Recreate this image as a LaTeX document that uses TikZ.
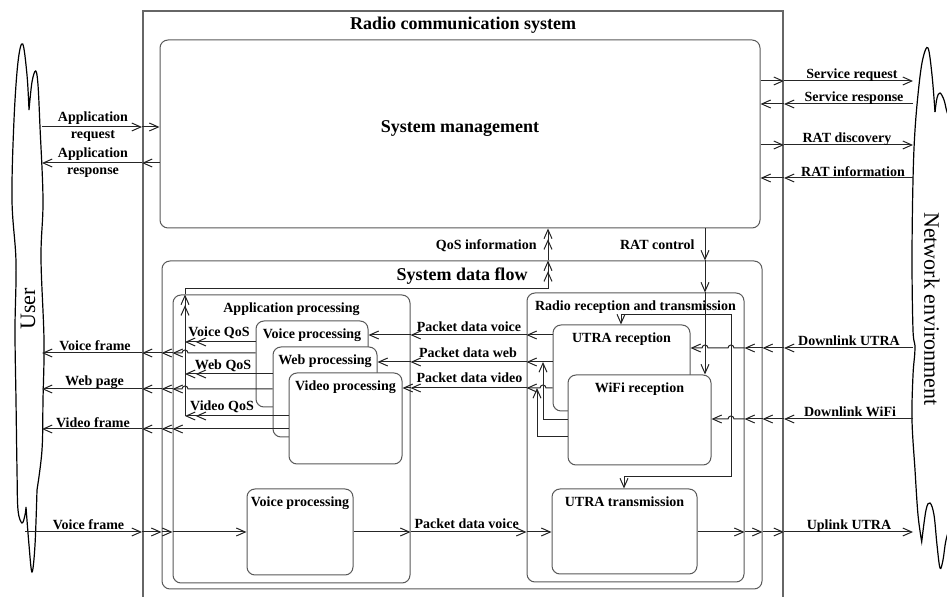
\documentclass[tikz,border=0pt]{standalone}
\usepackage{fontspec}
\setmainfont{Liberation Serif}
\usetikzlibrary{arrows.meta,fit}

\tikzset{
  sysbox/.style={draw=black!60, line width=1pt, inner sep=0pt},
  box/.style={draw=black!65, fill=white, rounded corners=4pt, inner sep=0pt, line width=0.5pt},
  ttl/.style={font=\bfseries\fontsize{7}{8.5}\selectfont, anchor=north, yshift=-0.4pt},
  bigttl/.style={font=\bfseries\fontsize{9}{11}\selectfont, anchor=north, yshift=-0.2pt},
  lab/.style={font=\bfseries\fontsize{7}{8.5}\selectfont, inner sep=0pt, anchor=base},
  lab2/.style={font=\bfseries\fontsize{7}{8.5}\selectfont, inner sep=0pt, align=center},
  wire/.style={draw=black!85, line width=0.5pt},
  arr/.style={wire, -{Straight Barb[length=4.5pt,width=4pt]}},
  qarr/.style={wire, -{Straight Barb[length=4.5pt,width=4pt]Straight Barb[length=4.5pt,width=4pt]}},
  cloudline/.style={draw=black, line width=0.6pt},
}

\begin{document}
\begin{tikzpicture}[x=0.5pt, y=-0.5pt]
\useasboundingbox (0,0) rectangle (947,597);

% clouds
\draw[cloudline] plot[smooth, tension=0.6] coordinates {(29,110) (27,75) (22.7,44) (18,62) (14,120) (12,200) (16,262) (15,330) (16,400) (17,470) (18,510) (22,523) (25,515) (26,507)}
  -- plot[smooth, tension=0.6] coordinates {(26,507) (29,545) (32,572) (35,545) (37,490)}
  -- plot[smooth, tension=0.6] coordinates {(37,490) (42,450) (43,400) (44,340) (41,258) (43,200) (40,127) (38,85) (35.7,71) (32,82) (29,110)};
\draw[cloudline] plot[smooth, tension=0.6] coordinates {(935,112) (932,75) (928,48) (923,58) (919,85) (915,130) (913,180) (912,260) (913,330) (915,348) (913,375) (912,420) (915,470) (918,515) (921.7,541.7)}
  -- plot[smooth, tension=0.6] coordinates {(921.7,541.7) (926,510) (930,503) (934,515) (937,545) (940,568) (943,560) (946,540) (952,520)};
\draw[cloudline] plot[smooth, tension=0.6] coordinates {(935,112) (937,98) (940,93) (944,100) (947,112) (952,125)};
\node[rotate=90, font=\fontsize{11}{13}\selectfont] (user-t) at (28,309) {User};
\node[rotate=-90, font=\fontsize{11}{13}\selectfont] (net-t) at (932,309) {Network environment};

% boxes
\node[sysbox, fit={(143,11) (783,615)}, label={[bigttl,name=sys-t]north:Radio communication system}] (sys) {};
\node[box, fit={(160,40) (760,228)}, font=\bfseries\fontsize{9}{11}\selectfont] (mgmt) {System management};
\node[box, fit={(162,261) (762,589)}, label={[bigttl,name=dflow-t]north:System data flow}] (dflow) {};
\node[box, fit={(173,295) (410,583)}, label={[ttl,name=app-t]north:Application processing}] (app) {};
\node[box, fit={(256,321) (368,407)}, label={[ttl,name=voice-t]north:Voice processing}] (voice) {};
\node[box, fit={(273,347) (377,437)}, label={[ttl,name=web-t]north:Web processing}] (web) {};
\node[box, fit={(289,373) (402,464)}, label={[ttl,name=video-t]north:Video processing}] (video) {};
\node[box, fit={(247,489) (353,575)}, label={[ttl,name=voiceTx-t]north:Voice processing}] (voiceTx) {};
\node[box, fit={(527,293) (744,582)}, label={[ttl,name=radio-t]north:Radio reception and transmission}] (radio) {};
\node[box, fit={(553,325) (690,411)}, label={[ttl,name=utraRx-t]north:UTRA reception}] (utraRx) {};
\node[box, fit={(568,375) (711,465)}, label={[ttl,name=wifiRx-t]north:WiFi reception}] (wifiRx) {};
\node[box, fit={(552,489) (697,574)}, label={[ttl,name=utraTx-t]north:UTRA transmission}] (utraTx) {};

% ends and bends of the connectors
\coordinate (user) at (42,300);
\coordinate (userB) at (25,532);
\coordinate (net) at (913,300);
\coordinate (qosbus) at (185,289);
\coordinate (qosup) at (548,289);
\coordinate (ratctl) at (705,315);
\coordinate (ratL) at (621,315);
\coordinate (ratR) at (731,315);
\coordinate (ratTx) at (624,477);
\coordinate (wifiWeb) at (543,362);
\coordinate (wifiVid) at (537,388);

% user <-> system management
\foreach \p/\q in {user/sys.west, sys.west/mgmt.west}
  \draw[arr] (\p |- 0,127) -- (\q |- 0,127);
\foreach \p/\q in {mgmt.west/sys.west, sys.west/user}
  \draw[arr] (\p |- 0,163) -- (\q |- 0,163);
\node[lab2] (l-appreq) at (93,127) {Application\\request};
\node[lab2] (l-appresp) at (93,162.5) {Application\\response};

% system management <-> network
\foreach \y in {81,145} {
  \draw[arr] (mgmt.east |- 0,\y) -- (sys.east |- 0,\y);
  \draw[arr] (sys.east |- 0,\y) -- (net |- 0,\y);
}
\foreach \y in {104,178} {
  \draw[arr] (net |- 0,\y) -- (sys.east |- 0,\y);
  \draw[arr] (sys.east |- 0,\y) -- (mgmt.east |- 0,\y);
}
\node[lab] (l-sreq) at (852,78.6) {Service request};
\node[lab] (l-sresp) at (854,101.3) {Service response};
\node[lab] (l-ratdisc) at (847,142.3) {RAT discovery};
\node[lab] (l-ratinfo) at (853,176.3) {RAT information};

% QoS information
\foreach \b/\y in {voice/342, web/374, video/416}
  \draw[qarr] (\b.west |- 0,\y) -- (qosbus |- 0,\y);
\draw[qarr] (qosbus |- 0,416) -- (qosbus |- app.north);
\draw[qarr] (qosbus |- app.north) -- (qosbus) -- (qosup) -- (qosup |- dflow.north);
\draw[qarr] (qosup |- dflow.north) -- (qosup |- mgmt.south);
\node[lab, anchor=base east] (l-qos) at (537,249.6) {QoS information};
\node[lab] (l-vqos) at (219,337) {Voice QoS};
\node[lab] (l-wqos) at (223,370) {Web QoS};
\node[lab] (l-dqos) at (222,411) {Video QoS};

% RAT control
\draw[arr] (ratctl |- mgmt.south) -- (ratctl |- dflow.north);
\draw[arr] (ratctl |- dflow.north) -- (ratctl |- radio.north);
\draw[arr] (ratctl |- radio.north) -- (ratctl |- wifiRx.north);
\draw[arr] (ratctl) -- (ratL) -- (ratL |- utraRx.north);
\draw[arr] (ratctl) -- (ratR) -- (ratR |- ratTx) -- (ratTx) -- (ratTx |- utraTx.north);
\node[lab, anchor=base east] (l-rat) at (695,249.6) {RAT control};

% application processing -> user
\draw[arr] (voice.west |- 0,353) -- ([xshift=1.5pt]qosbus |- 0,353) arc[start angle=0, end angle=-180, radius=3] -- (app.west |- 0,353);
\draw[arr] (web.west |- 0,389) -- ([xshift=1.5pt]qosbus |- 0,389) arc[start angle=0, end angle=-180, radius=3] -- (app.west |- 0,389);
\draw[arr] (video.west |- 0,429) -- (app.west |- 0,429);
\foreach \y in {353,389,429}
  \foreach \p/\q in {app.west/dflow.west, dflow.west/sys.west, sys.west/user}
    \draw[arr] (\p |- 0,\y) -- (\q |- 0,\y);
\node[lab] (l-vframe) at (95,351) {Voice frame};
\node[lab] (l-wpage) at (94.5,385.6) {Web page};
\node[lab] (l-dframe) at (93,427.3) {Video frame};

% user -> application processing -> radio -> network
\foreach \p/\q in {userB/sys.west, sys.west/dflow.west, dflow.west/app.west, app.west/voiceTx.west,
    voiceTx.east/app.east, app.east/radio.west, radio.west/utraTx.west,
    utraTx.east/radio.east, radio.east/dflow.east, dflow.east/sys.east, sys.east/net}
  \draw[arr] (\p |- 0,532) -- (\q |- 0,532);
\node[lab] (l-vframe2) at (88.5,530) {Voice frame};
\node[lab] (l-pvoice2) at (466.7,528.6) {Packet data voice};
\node[lab] (l-uplink) at (849,529.6) {Uplink UTRA};

% radio reception -> application processing
\foreach \p/\q in {utraRx.west/radio.west, radio.west/app.east, app.east/voice.east}
  \draw[arr] (\p |- 0,335) -- (\q |- 0,335);
\foreach \p/\q in {utraRx.west/radio.west, radio.west/app.east, app.east/web.east}
  \draw[arr] (\p |- 0,362) -- (\q |- 0,362);
\draw[arr] (utraRx.west |- 0,388) -- ([xshift=1.5pt]wifiWeb |- 0,388) arc[start angle=0, end angle=-180, radius=3] -- (radio.west |- 0,388);
\foreach \p/\q in {radio.west/app.east, app.east/video.east}
  \draw[arr] (\p |- 0,388) -- (\q |- 0,388);
\draw[arr] (wifiRx.west |- 0,420) -| (wifiWeb);
\draw[arr] (wifiRx.west |- 0,437) -| (wifiVid);
\node[lab] (l-pvoice) at (469,331.3) {Packet data voice};
\node[lab] (l-pweb) at (468,358) {Packet data web};
\node[lab] (l-pvideo) at (469.5,382.6) {Packet data video};

% network -> radio reception
\foreach \y in {348,419}
  \foreach \p/\q in {net/sys.east, sys.east/dflow.east, dflow.east/radio.east}
    \draw[arr] (\p |- 0,\y) -- (\q |- 0,\y);
\draw[arr] (radio.east |- 0,348) -- ([xshift=1.5pt]ratR |- 0,348) arc[start angle=0, end angle=-180, radius=3]
  -- ([xshift=1.5pt]ratctl |- 0,348) arc[start angle=0, end angle=-180, radius=3] -- (utraRx.east |- 0,348);
\draw[arr] (radio.east |- 0,419) -- ([xshift=1.5pt]ratR |- 0,419) arc[start angle=0, end angle=-180, radius=3] -- (wifiRx.east |- 0,419);
\node[lab] (l-dlutra) at (849,345.3) {Downlink UTRA};
\node[lab] (l-dlwifi) at (850,417) {Downlink WiFi};

\end{tikzpicture}
\end{document}
